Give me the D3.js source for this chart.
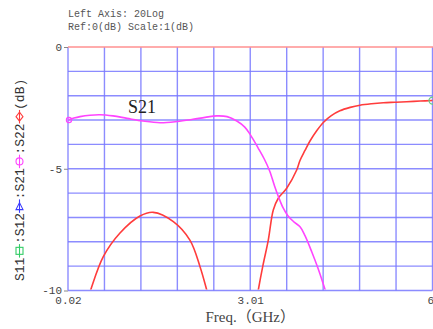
<!DOCTYPE html>
<html>
<head>
<meta charset="utf-8">
<script src="https://cdn.jsdelivr.net/npm/d3@7"></script>
<style>
  html, body { margin: 0; padding: 0; background: #fff; }
  svg { display: block; }
</style>
</head>
<body>
<svg id="chart" width="433" height="329"></svg>
<script>
// Frequency axis (GHz) and magnitude axis (dB)
const freqDomain = [0.02, 6.0];
const dbDomain = [0, -10];
const freqTickValues = [0.02, 3.01, 6.0];
const freqTickLabels = ["0.02", "3.01", "6"];
const dbTickValues = [0, -5, -10];
const dbTickLabels = ["0", "-5", "-10"];
const gridDivisions = 10;

// S21 trace: [frequency GHz, dB]
const s21Freq = [0.02, 0.118, 0.217, 0.381, 0.545, 0.758, 0.988, 1.25, 1.53, 1.81, 2.07, 2.27, 2.46, 2.63, 2.79, 2.92, 3.01, 3.14, 3.24, 3.33, 3.41, 3.48, 3.55, 3.63, 3.73, 3.83, 3.91, 4.02, 4.12, 4.24, 4.32];
const s21Db   = [-3.00, -2.92, -2.86, -2.80, -2.78, -2.83, -2.93, -3.04, -3.11, -3.06, -2.97, -2.89, -2.83, -2.86, -3.04, -3.29, -3.60, -4.15, -4.60, -5.10, -5.72, -6.20, -6.61, -6.94, -7.19, -7.39, -7.76, -8.42, -9.08, -9.98, -10.6];

// S22 trace, low band lobe
const s22aFreq = [0.30, 0.392, 0.599, 0.873, 1.201, 1.419, 1.748, 2.02, 2.186, 2.296, 2.36];
const s22aDb   = [-10.7, -9.98, -8.61, -7.64, -6.94, -6.79, -7.17, -7.93, -9.02, -9.98, -10.6];

// S22 trace, upper band
const s22bFreq = [3.10, 3.142, 3.22, 3.306, 3.388, 3.47, 3.608, 3.772, 3.826, 3.908, 3.99, 4.10, 4.209, 4.34, 4.48, 4.65, 4.81, 5.00, 5.193, 5.38, 5.577, 5.80, 6.00];
const s22bDb   = [-10.6, -9.98, -8.95, -7.93, -6.69, -6.21, -5.80, -5.05, -4.66, -4.25, -3.86, -3.44, -3.10, -2.82, -2.62, -2.48, -2.39, -2.33, -2.29, -2.27, -2.25, -2.22, -2.20];

const plot = { left: 68, right: 432.5, top: 47, bottom: 290.5 };
const svg = d3.select("#chart");

const x = d3.scaleLinear().domain(freqDomain).range([plot.left, plot.right]);
const y = d3.scaleLinear().domain(dbDomain).range([plot.top, plot.bottom]);

const monoFont = "'Liberation Mono', 'DejaVu Sans Mono', monospace";
const serifFont = "'Liberation Serif', 'Noto Sans CJK SC', serif";

// Header
svg.append("text").attr("x", 68).attr("y", 16.5)
  .attr("font-family", monoFont).attr("font-size", 10).attr("fill", "#555")
  .text("Left Axis: 20Log");
svg.append("text").attr("x", 68).attr("y", 29.5)
  .attr("font-family", monoFont).attr("font-size", 10).attr("fill", "#555")
  .text("Ref:0(dB) Scale:1(dB)");

// Grid
const xGrid = d3.range(gridDivisions + 1).map(i => freqDomain[0] + i * (freqDomain[1] - freqDomain[0]) / gridDivisions);
const yGrid = d3.range(gridDivisions + 1).map(i => dbDomain[0] + i * (dbDomain[1] - dbDomain[0]) / gridDivisions);
const grid = svg.append("g").attr("stroke", "#7878ff").attr("stroke-width", 1.4).attr("stroke-opacity", 0.85);
grid.selectAll("line.v").data(xGrid).join("line").attr("class", "v")
  .attr("x1", d => x(d)).attr("x2", d => x(d)).attr("y1", plot.top).attr("y2", plot.bottom);
grid.selectAll("line.h").data(yGrid.slice(1)).join("line").attr("class", "h")
  .attr("x1", plot.left).attr("x2", plot.right).attr("y1", d => y(d)).attr("y2", d => y(d));

// Reference level line at 0 dB
svg.append("line").attr("x1", plot.left).attr("x2", 433).attr("y1", y(0)).attr("y2", y(0))
  .attr("stroke", "#ff9090").attr("stroke-width", 1.6);

// Axis ticks and labels
const yAxis = d3.axisLeft(y).tickValues(dbTickValues).tickSize(4).tickPadding(2)
  .tickFormat((d, i) => dbTickLabels[i]);
const gy = svg.append("g").attr("transform", `translate(${plot.left},0)`).call(yAxis);
gy.select(".domain").remove();
gy.selectAll(".tick line").attr("stroke", "#888");
gy.selectAll(".tick text").attr("font-family", monoFont).attr("font-size", 11).attr("fill", "#444").attr("dy", "0.3em");

const xAxis = d3.axisBottom(x).tickValues(freqTickValues).tickSize(0).tickPadding(6)
  .tickFormat((d, i) => freqTickLabels[i]);
const gx = svg.append("g").attr("transform", `translate(0,${plot.bottom})`).call(xAxis);
gx.select(".domain").remove();
gx.selectAll(".tick text").attr("font-family", monoFont).attr("font-size", 11).attr("fill", "#444")
  .attr("text-anchor", (d, i, n) => i === n.length - 1 ? "end" : "middle")
  .attr("dx", (d, i, n) => i === n.length - 1 ? "0.1em" : 0);

svg.append("text").attr("x", (plot.left + plot.right) / 2).attr("y", 322)
  .attr("text-anchor", "middle").attr("font-family", serifFont).attr("font-size", 15).attr("fill", "#444")
  .text("Freq.（GHz）");

// Traces
svg.append("clipPath").attr("id", "plot-clip").append("rect")
  .attr("x", plot.left).attr("y", plot.top - 2).attr("width", 433 - plot.left).attr("height", plot.bottom - plot.top + 1);

const line = d3.line().x(d => x(d[0])).y(d => y(d[1])).curve(d3.curveCatmullRom.alpha(0.5));
const zipTrace = (f, v) => f.map((d, i) => [d, v[i]]);
const traces = svg.append("g").attr("clip-path", "url(#plot-clip)").attr("fill", "none").attr("stroke-width", 1.6);

traces.append("path").datum(zipTrace(s22aFreq, s22aDb)).attr("d", line).attr("stroke", "#ff3c3c");
traces.append("path").datum(zipTrace(s22bFreq, s22bDb)).attr("d", line).attr("stroke", "#ff3c3c");
traces.append("path").datum(zipTrace(s21Freq, s21Db)).attr("d", line).attr("stroke", "#ff44ff");

// Trace end markers
svg.append("circle").attr("cx", x(s21Freq[0]) + 1).attr("cy", y(s21Db[0])).attr("r", 2.6)
  .attr("fill", "none").attr("stroke", "#ff44ff").attr("stroke-width", 1.2);
svg.append("circle").attr("cx", x(s22bFreq[s22bFreq.length - 1])).attr("cy", y(s22bDb[s22bDb.length - 1])).attr("r", 3.5)
  .attr("fill", "none").attr("stroke", "#66cc88").attr("stroke-width", 1.3);

// Trace name
svg.append("text").attr("x", 128).attr("y", 113)
  .attr("font-family", serifFont).attr("font-size", 18).attr("fill", "#222")
  .text("S21");

// Vertical legend/title with trace symbols
const legendItems = [
  { text: "S11" }, { marker: "square", color: "#33cc66" },
  { text: ":S12" }, { marker: "triangle", color: "#3a3aff" },
  { text: ":S21" }, { marker: "circle", color: "#ff44ff" },
  { text: ":S22" }, { marker: "diamond", color: "#ff3c3c" },
  { text: "(dB)" }
];
const lg = svg.append("g").attr("transform", "translate(24,281) rotate(-90)");
let cursor = 0;
const markerWidth = 13.5;
legendItems.forEach(item => {
  if (item.text) {
    const t = lg.append("text").attr("x", cursor).attr("y", 0)
      .attr("font-family", monoFont).attr("font-size", 13).attr("fill", "#333").text(item.text);
    cursor += t.node().getComputedTextLength();
  } else {
    const cx = cursor + markerWidth / 2, cy = -4.5;
    const m = lg.append("g").attr("stroke", item.color).attr("fill", "none").attr("stroke-width", 1.1);
    m.append("line").attr("x1", cursor).attr("x2", cursor + markerWidth).attr("y1", cy).attr("y2", cy);
    const s = 3.5;
    if (item.marker === "square") {
      m.append("rect").attr("x", cx - s).attr("y", cy - s).attr("width", 2 * s).attr("height", 2 * s);
    } else if (item.marker === "triangle") {
      m.append("path").attr("d", `M${cx + s},${cy}L${cx - s},${cy - s}L${cx - s},${cy + s}Z`);
    } else if (item.marker === "circle") {
      m.append("circle").attr("cx", cx).attr("cy", cy).attr("r", s);
    } else {
      m.append("path").attr("d", `M${cx - s - 1},${cy}L${cx},${cy - s}L${cx + s + 1},${cy}L${cx},${cy + s}Z`);
    }
    cursor += markerWidth;
  }
});
</script>
</body>
</html>
